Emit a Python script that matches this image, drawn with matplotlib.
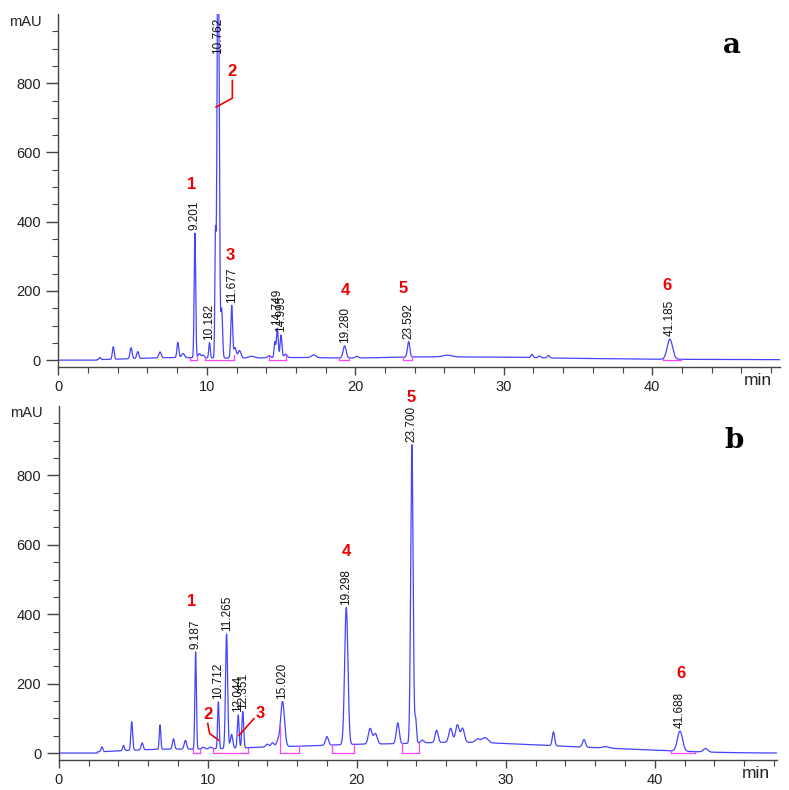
import numpy as np
import matplotlib
matplotlib.use("Agg")
import matplotlib.pyplot as plt
from matplotlib.ticker import FixedLocator, MultipleLocator

plt.rcParams['font.family'] = ['Liberation Sans', 'DejaVu Sans']

# ---------------- data ----------------
# panel a: peak table  (retention time, height mAU, sigma min)
a_rt = [2.8, 3.7, 4.9, 5.35, 6.85, 8.05, 8.4, 9.201, 9.5, 9.75, 10.182, 10.58, 10.762, 11.0,
        11.677, 11.9, 12.2, 13.0, 14.2, 14.58, 14.749, 14.995, 15.3, 17.2, 19.280, 20.1,
        23.592, 26.2, 31.9, 32.4, 33.0, 41.185]
a_h = [6, 36, 32, 20, 17, 44, 12, 360, 12, 8, 44, 330, 1300, 140,
       152, 30, 22, 5, 6, 45, 85, 65, 10, 8, 35, 5,
       45, 5, 9, 5, 7, 58]
a_w = [0.06, 0.06, 0.07, 0.07, 0.08, 0.06, 0.1, 0.05, 0.08, 0.08, 0.05, 0.04, 0.07, 0.06,
       0.06, 0.08, 0.1, 0.2, 0.1, 0.05, 0.06, 0.06, 0.1, 0.15, 0.1, 0.1,
       0.08, 0.3, 0.08, 0.08, 0.08, 0.18]
# panel a: broad baseline components (centre, height, sigma)
a_base_c = [8, 16, 24, 30, 36, 44]
a_base_h = [7, 7, 8, 7, 3, 2]
a_base_w = [3, 3, 3, 3, 3, 5]

# panel b: peak table
b_rt = [2.9, 4.35, 4.9, 5.6, 6.8, 7.7, 8.5, 9.187, 9.7, 10.2, 10.712, 11.265, 11.6, 12.044,
        12.351, 14.0, 14.35, 14.7, 15.020, 18.0, 19.298, 20.9, 21.25, 22.75, 23.700, 23.95,
        24.4, 25.36, 26.3, 26.75, 27.1, 28.1, 28.6, 33.2, 35.25, 36.7, 41.688, 43.4]
b_h = [14, 15, 82, 20, 70, 30, 25, 280, 5, 5, 135, 330, 40, 95,
       105, 8, 12, 15, 130, 25, 395, 45, 30, 60, 860, 70,
       8, 35, 40, 50, 40, 10, 15, 40, 22, 4, 58, 10]
b_w = [0.06, 0.06, 0.06, 0.07, 0.05, 0.07, 0.08, 0.05, 0.1, 0.1, 0.05, 0.07, 0.08, 0.06,
       0.06, 0.1, 0.1, 0.1, 0.13, 0.1, 0.11, 0.12, 0.12, 0.1, 0.08, 0.06,
       0.1, 0.1, 0.12, 0.12, 0.12, 0.15, 0.2, 0.08, 0.1, 0.2, 0.17, 0.15]
b_base_c = [7, 14, 20, 26, 31, 36, 40.5]
b_base_h = [10, 14, 20, 24, 17, 10, 4]
b_base_w = [3, 3, 3, 3, 3, 3, 3]

# retention-time labels
a_labels = ["9.201", "10.182", "10.762", "11.677", "14.749", "14.995", "19.280", "23.592", "41.185"]
b_labels = ["9.187", "10.712", "11.265", "12.044", "12.351", "15.020", "19.298", "23.700", "41.688"]

# compound numbers (text, time, mAU)
a_num = ["1", "2", "3", "4", "5", "6"]
a_num_t = [8.98, 11.72, 11.56, 19.35, 23.25, 40.96]
a_num_y = [508, 835, 301, 202, 206, 217]
b_num = ["1", "2", "3", "4", "5", "6"]
b_num_t = [8.95, 10.0, 13.54, 19.3, 23.68, 41.73]
b_num_y = [437, 111, 114, 581, 1023, 230]

# leader lines (time list, mAU list)
a_lead_t = [11.72, 11.72, 10.62]
a_lead_y = [808, 757, 731]
b_lead2_t = [10.0, 10.13, 10.74]
b_lead2_y = [85, 56, 37]
b_lead3_t = [13.1, 12.1]
b_lead3_y = [99, 51]

# integration windows (start, end)
a_int_s = [8.9, 9.9, 14.2, 18.9, 23.2, 40.7]
a_int_e = [9.35, 11.8, 15.3, 19.6, 23.8, 41.9]
b_int_s = [9.0, 10.35, 14.85, 18.36, 23.04, 41.1]
b_int_e = [9.45, 12.7, 16.1, 19.82, 24.15, 42.7]

XMAX_A, XMAX_B = 48.6, 48.2


def trace(t, rts, hs, ws, bc, bh, bw):
    y = np.zeros_like(t)
    for c, h, w in zip(rts, hs, ws):
        y += h * np.exp(-0.5 * ((t - c) / w) ** 2)
    for c, h, w in zip(bc, bh, bw):
        y += h * np.exp(-0.5 * ((t - c) / w) ** 2)
    return y


fig = plt.figure(figsize=(7.89, 7.90), dpi=100)
ax_a = fig.add_axes([0.0739, 0.5354, 0.9147, 0.4468])
ax_b = fig.add_axes([0.0744, 0.0380, 0.9104, 0.4481])

LINE = '#4444ff'
PINK = '#ff44ff'
RED = '#ee0000'


def style(ax, xmax):
    ax.set_xlim(0, xmax)
    ax.set_ylim(-20, 1000)
    for s in ['top', 'right']:
        ax.spines[s].set_visible(False)
    for s in ['left', 'bottom']:
        ax.spines[s].set_color('#444444')
        ax.spines[s].set_linewidth(1.0)
    ax.xaxis.set_major_locator(FixedLocator([0, 10, 20, 30, 40]))
    ax.xaxis.set_minor_locator(MultipleLocator(2))
    ax.yaxis.set_major_locator(FixedLocator([0, 200, 400, 600, 800]))
    ax.yaxis.set_minor_locator(FixedLocator([v for v in range(0, 1000, 50) if v % 200]))
    ax.tick_params(axis='both', which='major', direction='out', length=6, width=1,
                   color='#444444', labelsize=10.5, labelcolor='#222222')
    ax.tick_params(axis='y', which='major', length=9)
    ax.tick_params(axis='both', which='minor', direction='out', length=4, width=0.8, color='#444444')


def draw(ax, xmax, rts, hs, ws, bc, bh, bw, labels, nums, nt, ny, ints, inte, letter,
         letter_pos, mau_y, vcap):
    t = np.arange(0, xmax + 0.005, 0.005)
    y = trace(t, rts, hs, ws, bc, bh, bw)
    y[t < 2.6] = 0
    ax.plot(t, y, color=LINE, lw=0.9, clip_on=True)
    style(ax, xmax)
    # integration marks
    for s, e in zip(ints, inte):
        ax.plot([s, e], [0, 0], color=PINK, lw=0.9)
        for x in (s, e):
            v = min(float(np.interp(x, t, y)), vcap)
            ax.plot([x, x], [0, v], color=PINK, lw=0.9)
    # RT labels
    for lab in labels:
        rt = float(lab)
        v = float(trace(np.array([rt]), rts, hs, ws, bc, bh, bw)[0])
        if v > 950:
            ax.text(rt, 990, lab, rotation=90, ha='center', va='top', fontsize=8.5, color='#111111')
        else:
            ax.text(rt, v + 8, lab, rotation=90, ha='center', va='bottom', fontsize=8.5,
                    color='#111111', clip_on=False)
    for s, x0, y0 in zip(nums, nt, ny):
        ax.text(x0, y0, s, color=RED, fontsize=12, fontweight='bold', ha='center', va='center',
                clip_on=False)
    ax.text(0.97, -0.018, 'min', transform=ax.transAxes, ha='center', va='top', fontsize=12.5,
            color='#222222')
    ax.text(-0.045, mau_y, 'mAU', transform=ax.transAxes, ha='center', va='center', fontsize=10.5,
            color='#222222')
    ax.text(letter_pos[0], letter_pos[1], letter, transform=ax.transAxes, fontsize=20,
            fontweight='bold', family='DejaVu Serif', ha='center', va='baseline')


draw(ax_a, XMAX_A, a_rt, a_h, a_w, a_base_c, a_base_h, a_base_w, a_labels,
     a_num, a_num_t, a_num_y, a_int_s, a_int_e, 'a',
     (0.933, (367 - 52.7) / 353), (367 - 22) / 353, 15)
draw(ax_b, XMAX_B, b_rt, b_h, b_w, b_base_c, b_base_h, b_base_w, b_labels,
     b_num, b_num_t, b_num_y, b_int_s, b_int_e, 'b',
     (0.94, (760 - 448.3) / 354), (760 - 413) / 354, 1000)

ax_a.plot(a_lead_t, a_lead_y, color=RED, lw=1.2)
ax_b.plot(b_lead2_t, b_lead2_y, color=RED, lw=1.2)
ax_b.plot(b_lead3_t, b_lead3_y, color=RED, lw=1.2)

fig.savefig('out.png', dpi=100)
